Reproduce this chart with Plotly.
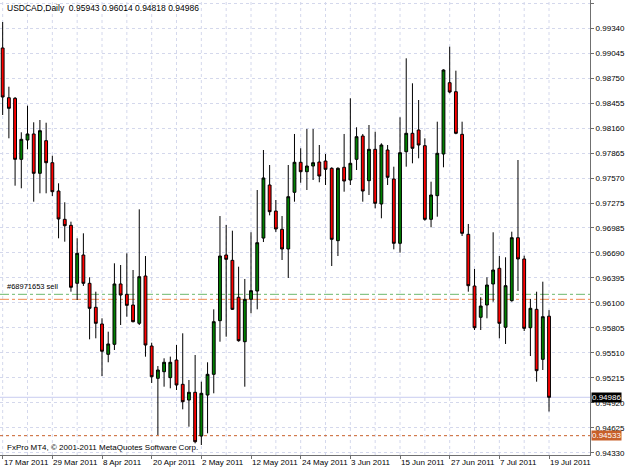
import pandas as pd
import plotly.graph_objects as go

# ---------------- data ----------------
dates = pd.bdate_range("2011-03-17", "2011-07-19")
bar_keys = [d.strftime("%Y-%m-%d") for d in dates]

open_ = [0.99108, 0.98521, 0.98514, 0.97794, 0.98022, 0.98093, 0.97629, 0.98014, 0.97754, 0.97420,
         0.97086, 0.97015, 0.96331, 0.96665, 0.96331, 0.96048, 0.95851, 0.95493, 0.95611, 0.96323,
         0.96201, 0.96075, 0.95859, 0.96417, 0.95591, 0.95210, 0.95288, 0.95218, 0.95426, 0.95139,
         0.94954, 0.95045, 0.94529, 0.95013, 0.95257, 0.95890, 0.96665, 0.96602, 0.96166, 0.95642,
         0.96142, 0.96240, 0.96865, 0.97491, 0.97184, 0.96968, 0.96736, 0.97405, 0.97759, 0.97648,
         0.97715, 0.97762, 0.97774, 0.97688, 0.96834, 0.97700, 0.97550, 0.97794, 0.98069, 0.97542,
         0.97912, 0.97267, 0.97904, 0.97562, 0.96803, 0.97884, 0.98101, 0.98140, 0.97955, 0.97086,
         0.97365, 0.97857, 0.98698, 0.98592, 0.98089, 0.96909, 0.96299, 0.95930, 0.96075, 0.96323,
         0.96508, 0.95812, 0.96126, 0.96869, 0.96618, 0.95807, 0.96024, 0.95434, 0.95943]
high = [0.99414, 0.98651, 0.98529, 0.98113, 0.98427, 0.98231, 0.98258, 0.98226, 0.97837, 0.97511,
        0.97287, 0.97058, 0.96862, 0.96921, 0.96402, 0.96232, 0.95918, 0.95760, 0.96567, 0.96547,
        0.96685, 0.96488, 0.97204, 0.96653, 0.95630, 0.95355, 0.95446, 0.95466, 0.95603, 0.95741,
        0.95190, 0.95485, 0.95170, 0.95399, 0.96024, 0.97125, 0.97019, 0.96952, 0.96527, 0.96382,
        0.96933, 0.97432, 0.97904, 0.97727, 0.97314, 0.97125, 0.97727, 0.98093, 0.97924, 0.98152,
        0.98152, 0.97963, 0.97857, 0.97700, 0.97700, 0.98093, 0.98514, 0.98172, 0.98093, 0.98199,
        0.98120, 0.97983, 0.97963, 0.97707, 0.98290, 0.98986, 0.98691, 0.98494, 0.98042, 0.97530,
        0.98238, 0.98856, 0.99123, 0.98840, 0.98238, 0.97031, 0.96500, 0.96166, 0.96402, 0.96933,
        0.96653, 0.96638, 0.96940, 0.97786, 0.96657, 0.96146, 0.96232, 0.96350, 0.96014]
low = [0.98317, 0.98042, 0.97483, 0.97452, 0.97912, 0.97294, 0.97393, 0.97393, 0.97361, 0.96862,
       0.96822, 0.96232, 0.96134, 0.96300, 0.95670, 0.95682, 0.95237, 0.95399, 0.95544, 0.95839,
       0.95937, 0.95870, 0.95839, 0.95465, 0.95155, 0.94541, 0.95111, 0.95092, 0.95072, 0.94844,
       0.94639, 0.94443, 0.94423, 0.94561, 0.95033, 0.95642, 0.95701, 0.96016, 0.95642, 0.95111,
       0.95977, 0.96024, 0.96818, 0.97133, 0.96937, 0.96606, 0.96394, 0.97294, 0.97518, 0.97432,
       0.97550, 0.97523, 0.97491, 0.96535, 0.96653, 0.97412, 0.97491, 0.97668, 0.97294, 0.97373,
       0.97216, 0.97098, 0.97491, 0.96732, 0.96692, 0.97707, 0.97747, 0.97806, 0.97070, 0.96992,
       0.97117, 0.97700, 0.98573, 0.98090, 0.96889, 0.96232, 0.95780, 0.95780, 0.95918, 0.96114,
       0.95682, 0.95615, 0.96114, 0.96240, 0.95768, 0.95473, 0.95170, 0.95308, 0.94818]
close = [0.98529, 0.98396, 0.97794, 0.98030, 0.98093, 0.97629, 0.98132, 0.97754, 0.97412, 0.97090,
         0.97011, 0.96284, 0.96685, 0.96331, 0.96036, 0.95859, 0.95529, 0.95615, 0.96323, 0.96193,
         0.96071, 0.95878, 0.96409, 0.95603, 0.95229, 0.95308, 0.95399, 0.95399, 0.95131, 0.94934,
         0.95045, 0.94462, 0.95033, 0.95257, 0.95878, 0.96653, 0.96614, 0.96024, 0.95654, 0.96142,
         0.96244, 0.96810, 0.97574, 0.97176, 0.96972, 0.96736, 0.97353, 0.97759, 0.97648, 0.97715,
         0.97754, 0.97597, 0.97676, 0.96850, 0.97688, 0.97538, 0.97747, 0.98061, 0.97420, 0.97912,
         0.97275, 0.97963, 0.97582, 0.96803, 0.97872, 0.98101, 0.97924, 0.97963, 0.97086, 0.97373,
         0.97865, 0.98848, 0.98588, 0.98101, 0.96921, 0.96303, 0.95807, 0.96063, 0.96311, 0.96488,
         0.95859, 0.96303, 0.96869, 0.96618, 0.95800, 0.96036, 0.95300, 0.95937, 0.94986]

price_ticks = [0.99635, 0.99340, 0.99045, 0.98750, 0.98455, 0.98160, 0.97865, 0.97570, 0.97275,
               0.96985, 0.96690, 0.96395, 0.96100, 0.95805, 0.95510, 0.95215, 0.94920, 0.94625, 0.94330]
date_tick_labels = ["17 Mar 2011", "29 Mar 2011", "8 Apr 2011", "20 Apr 2011", "2 May 2011",
                    "12 May 2011", "24 May 2011", "3 Jun 2011", "15 Jun 2011", "27 Jun 2011",
                    "7 Jul 2011", "19 Jul 2011"]
date_tick_keys = ["2011-03-17", "2011-03-29", "2011-04-08", "2011-04-20", "2011-05-02",
                  "2011-05-12", "2011-05-24", "2011-06-03", "2011-06-15", "2011-06-27",
                  "2011-07-07", "2011-07-19"]
grid_keys = bar_keys[::4]

order_price = 0.96201
order_sl = 0.96142
bid_price = 0.94986
level_price = 0.94533
title_text = "USDCAD,Daily\u00a0\u00a00.95943 0.96014 0.94818 0.94986"
order_text = "#68971653 sell"
copyright_text = "FxPro MT4, \u00a9 2001-2011 MetaQuotes Software Corp."

FONT = "Liberation Sans"
GRID = "#D4D8EC"

fig = go.Figure()
fig.add_trace(go.Candlestick(
    x=bar_keys, open=open_, high=high, low=low, close=close,
    increasing=dict(fillcolor="#008000", line=dict(color="#000000", width=1)),
    decreasing=dict(fillcolor="#FF0000", line=dict(color="#000000", width=1)),
    whiskerwidth=0, showlegend=False, hoverinfo="skip"))

# vertical dashed grid every 4 bars
for key in grid_keys:
    fig.add_shape(type="line", xref="x", x0=key, x1=key, yref="paper", y0=0, y1=1,
                  line=dict(color=GRID, width=1, dash="3px,3px"), layer="below")

lines = [
    (order_price, "#6CB86C", "dashdot"),
    (order_sl, "#F0884C", "dashdot"),
    (bid_price, "#C8CCF0", "solid"),
    (level_price, "#C8602A", "dot"),
]
for val, col, dash in lines:
    fig.add_shape(type="line", xref="paper", x0=0, x1=1, yref="y", y0=val, y1=val,
                  line=dict(color=col, width=1, dash=dash), layer="below")

annotations = [
    dict(text=title_text, xref="paper", yref="paper", x=0.008, y=1, yshift=-1,
         xanchor="left", yanchor="top", showarrow=False, font=dict(size=8.5, color="#000")),
    dict(text=copyright_text, xref="paper", yref="paper", x=0.008, y=0.016,
         xanchor="left", yanchor="middle", showarrow=False, font=dict(size=8, color="#000")),
    dict(text=order_text, xref="paper", yref="y", x=0.008, y=order_price, yshift=1,
         xanchor="left", yanchor="bottom", showarrow=False, font=dict(size=7.5, color="#000")),
    dict(text=f"{bid_price:.5f}", xref="paper", yref="y", x=1, y=bid_price, xshift=1,
         xanchor="left", yanchor="middle", showarrow=False, bgcolor="#000000",
         borderpad=0, font=dict(size=8, color="#FFFFFF")),
    dict(text=f"{level_price:.5f}", xref="paper", yref="y", x=1, y=level_price, xshift=1,
         xanchor="left", yanchor="middle", showarrow=False, bgcolor="#C8602A",
         borderpad=0, font=dict(size=8, color="#FFFFFF")),
]
for key, lab in zip(date_tick_keys, date_tick_labels):
    annotations.append(dict(text=lab, xref="x", yref="paper", x=key, y=0, yshift=-1,
                            xanchor="left", yanchor="top", xshift=-1, showarrow=False,
                            font=dict(size=8, color="#000")))

fig.update_layout(
    width=625, height=469,
    margin=dict(l=0, r=31, t=0, b=14, pad=0),
    paper_bgcolor="#FFFFFF", plot_bgcolor="#FFFFFF",
    font=dict(family=FONT, size=8, color="#000000"),
    boxgap=0.35,
    annotations=annotations,
    xaxis=dict(type="category", categoryorder="array", categoryarray=bar_keys,
               range=[-0.43, 94.6], rangeslider=dict(visible=False),
               tickmode="array", tickvals=date_tick_keys, ticktext=[""] * len(date_tick_keys),
               showticklabels=False, ticks="outside", ticklen=3, tickcolor="#707070",
               showgrid=False,
               showline=True, linecolor="#707070", linewidth=1, zeroline=False,
               fixedrange=True),
    yaxis=dict(side="right", range=[0.94305, 0.99674],
               tickmode="array", tickvals=price_ticks,
               ticktext=[f"{v:.5f}" for v in price_ticks],
               ticks="outside", ticklen=3, tickcolor="#707070",
               showgrid=True, gridcolor=GRID, griddash="3px,3px", gridwidth=1,
               showline=True, linecolor="#707070", linewidth=1, zeroline=False,
               tickfont=dict(size=8, family=FONT, color="#000"), fixedrange=True),
)

fig.write_html("out.html")
